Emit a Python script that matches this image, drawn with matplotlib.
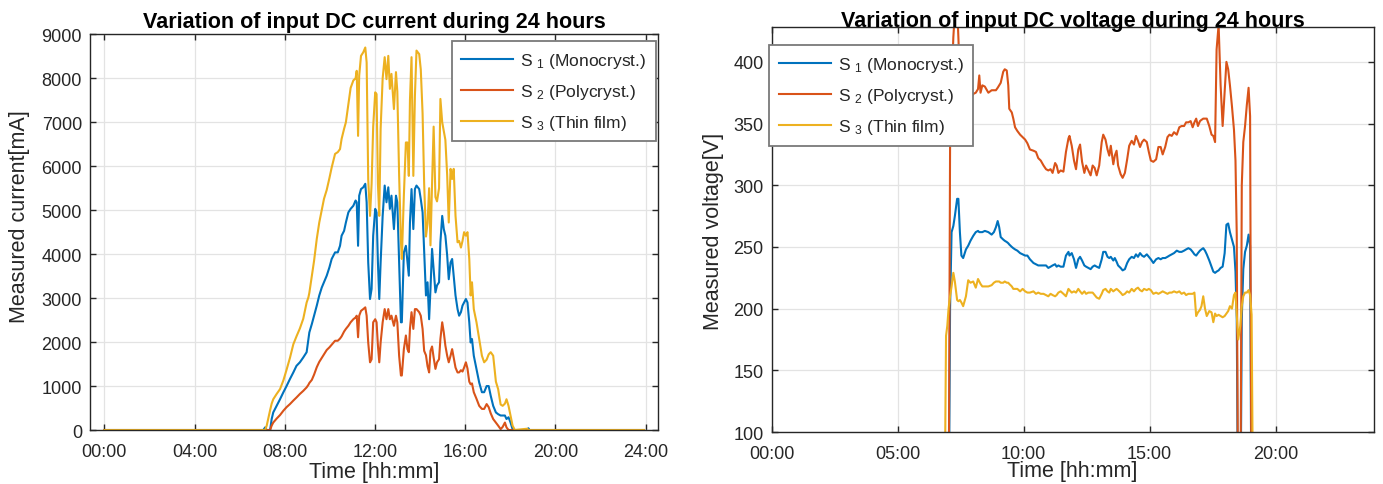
import matplotlib
matplotlib.use("Agg")
import matplotlib.pyplot as plt

# ---- DC current (mA), sampled at the same times for the three strings ----
cur_time = [
    0.0, 7.05, 7.13, 7.2, 7.35, 7.42, 7.49, 7.64, 7.79, 7.94,
    8.08, 8.23, 8.38, 8.52, 8.67, 8.82, 8.97, 9.05, 9.09, 9.2,
    9.3, 9.42, 9.53, 9.64, 9.74, 9.86, 9.98, 10.08, 10.23, 10.35,
    10.45, 10.52, 10.63, 10.71, 10.82, 10.92, 11.04, 11.14, 11.19, 11.25,
    11.3, 11.38, 11.48, 11.57, 11.63, 11.7, 11.78, 11.85, 11.92, 12.01,
    12.07, 12.13, 12.19, 12.25, 12.34, 12.43, 12.51, 12.59, 12.66, 12.73,
    12.84, 12.93, 12.99, 13.07, 13.15, 13.19, 13.28, 13.37, 13.44, 13.5,
    13.55, 13.62, 13.7, 13.77, 13.84, 13.96, 14.03, 14.11, 14.18, 14.26,
    14.33, 14.4, 14.46, 14.53, 14.6, 14.68, 14.75, 14.84, 14.9, 14.98,
    15.05, 15.12, 15.2, 15.27, 15.35, 15.42, 15.49, 15.57, 15.66, 15.73,
    15.81, 15.88, 15.95, 16.03, 16.1, 16.18, 16.24, 16.3, 16.38, 16.5,
    16.62, 16.74, 16.84, 16.95, 17.04, 17.13, 17.24, 17.36, 17.46, 17.57,
    17.66, 17.76, 17.83, 17.92, 18.01, 18.1, 18.2, 18.75, 18.8, 18.85,
    23.92,
]
cur_s1 = [
    0, 0, 60, 0, 0, 250, 400, 550, 700, 860,
    1000, 1160, 1310, 1460, 1540, 1650, 1770, 2070, 2220, 2410,
    2600, 2830, 3060, 3240, 3360, 3510, 3700, 3890, 4040, 4040,
    4190, 4420, 4530, 4720, 4950, 5030, 5100, 5220, 5180, 4190,
    5330, 5480, 5520, 5600, 5180, 3810, 2980, 3210, 4420, 5030,
    4950, 3810, 2980, 3810, 4870, 5560, 5180, 5520, 5030, 5330,
    4570, 5330, 5180, 3810, 2450, 2450, 4040, 4190, 3810, 3510,
    4720, 5480, 4570, 5480, 5560, 5480, 5250, 4950, 4040, 3060,
    3360, 2520, 3210, 4120, 3660, 3130, 3290, 3360, 4270, 4870,
    4570, 4420, 3970, 3430, 3810, 3890, 3510, 3060, 2750, 2600,
    2680, 2830, 2900, 2980, 2900, 2450, 1990, 2070, 1690, 1390,
    1080, 860, 860, 1000, 1000, 780, 550, 400, 360, 330,
    330, 330, 250, 290, 170, 20, 0, 0, 40, 0,
    0,
]
cur_s2 = [
    0, 0, 0, 0, 0, 100, 170, 260, 340, 440,
    520, 590, 670, 740, 820, 890, 970, 1030, 1070, 1140,
    1260, 1430, 1550, 1640, 1720, 1820, 1880, 1940, 2030, 2030,
    2080, 2130, 2240, 2300, 2370, 2450, 2520, 2560, 2600, 2110,
    2600, 2710, 2750, 2790, 2600, 1990, 1540, 1610, 2450, 2520,
    2450, 1920, 1540, 1990, 2450, 2750, 2520, 2750, 2520, 2600,
    2370, 2600, 2450, 1690, 1240, 1240, 1840, 2150, 1840, 1770,
    2300, 2680, 2300, 2750, 2750, 2680, 2600, 2300, 1800, 1700,
    1450, 1310, 1800, 1900, 1650, 1390, 1540, 1610, 2070, 2450,
    2220, 1920, 1690, 1540, 1690, 1840, 1650, 1420, 1310, 1310,
    1360, 1330, 1420, 1540, 1400, 1100, 1040, 1060, 860, 710,
    550, 480, 480, 590, 520, 380, 250, 170, 100, 20,
    70, 170, 60, 0, 0, 0, 0, 0, 0, 0,
    0,
]
cur_s3 = [
    0, 0, 0, 100, 450, 600, 700, 820, 930, 1130,
    1370, 1640, 1950, 2130, 2310, 2530, 2900, 3020, 3120, 3510,
    3850, 4350, 4720, 5000, 5260, 5460, 5730, 5970, 6280, 6320,
    6390, 6620, 6850, 7000, 7400, 7780, 7950, 8000, 8170, 6690,
    8060, 8510, 8590, 8700, 8360, 5700, 4870, 5600, 6900, 7680,
    7640, 5600, 4870, 6850, 8000, 8480, 7980, 8510, 7760, 8100,
    7300, 8140, 7700, 5800, 4300, 3890, 5330, 6540, 6540, 5780,
    7500, 8480, 5780, 7600, 8630, 8550, 8200, 7200, 5600, 4400,
    4700, 5500, 4200, 5600, 6900, 5300, 5200, 5500, 7530, 7000,
    6800, 6600, 5800, 4720, 5940, 5710, 5940, 4870, 4270, 4300,
    4150, 4300, 4500, 4420, 4500, 3890, 3060, 3360, 2750, 2450,
    2070, 1690, 1540, 1600, 1720, 1770, 1690, 1100, 930, 580,
    550, 600, 700, 550, 330, 100, 0, 30, 0, 0,
    0,
]

# ---- DC voltage (V) ----
volt_time = [
    0.0, 6.85, 6.92, 6.97, 7.02, 7.08, 7.14, 7.21, 7.27, 7.36,
    7.41, 7.47, 7.53, 7.6, 7.71, 7.8, 7.89, 8.0, 8.1, 8.19,
    8.24, 8.29, 8.36, 8.46, 8.6, 8.73, 8.82, 8.9, 8.97, 9.03,
    9.09, 9.19, 9.25, 9.33, 9.39, 9.43, 9.53, 9.59, 9.66, 9.75,
    9.86, 9.96, 10.06, 10.15, 10.25, 10.39, 10.49, 10.58, 10.68, 10.79,
    10.89, 10.98, 11.07, 11.15, 11.25, 11.31, 11.38, 11.47, 11.58, 11.68,
    11.78, 11.82, 11.91, 12.0, 12.08, 12.17, 12.24, 12.32, 12.41, 12.48,
    12.57, 12.66, 12.74, 12.82, 12.9, 13.0, 13.1, 13.16, 13.25, 13.33,
    13.4, 13.46, 13.56, 13.62, 13.69, 13.75, 13.85, 13.93, 14.02, 14.11,
    14.19, 14.29, 14.38, 14.46, 14.54, 14.62, 14.7, 14.78, 14.89, 14.97,
    15.05, 15.15, 15.26, 15.35, 15.44, 15.52, 15.62, 15.71, 15.79, 15.88,
    15.97, 16.08, 16.18, 16.27, 16.37, 16.45, 16.54, 16.63, 16.71, 16.78,
    16.85, 16.92, 17.0, 17.06, 17.13, 17.2, 17.27, 17.37, 17.46, 17.53,
    17.6, 17.66, 17.74, 17.82, 17.9, 17.98, 18.05, 18.12, 18.19, 18.27,
    18.35, 18.41, 18.46, 18.52, 18.6, 18.66, 18.72, 18.79, 18.86, 18.93,
    18.99, 19.05, 19.12, 23.92,
]
volt_s1 = [
    0, 0, 0, 0, 0, 200, 262, 267, 275, 289,
    289, 262, 243, 241, 248, 251, 255, 259, 262, 263,
    262, 262, 262, 263, 262, 260, 262, 266, 271, 266,
    258, 256, 255, 254, 253, 252, 250, 249, 248, 247,
    245, 244, 243, 243, 240, 237, 236, 235, 235, 235,
    235, 233, 234, 235, 236, 234, 235, 234, 234, 243,
    246, 243, 245, 240, 233, 240, 242, 239, 235, 234,
    233, 232, 234, 235, 234, 233, 240, 246, 246, 242,
    241, 242, 239, 241, 238, 235, 233, 231, 232, 237,
    240, 242, 241, 244, 242, 245, 243, 242, 244, 242,
    240, 237, 240, 241, 240, 241, 241, 242, 243, 244,
    245, 247, 246, 246, 247, 248, 249, 248, 246, 244,
    243, 245, 247, 248, 249, 247, 244, 239, 234, 230,
    229, 230, 231, 233, 234, 245, 268, 269, 262, 256,
    250, 230, 192, 0, 0, 192, 232, 246, 251, 260,
    251, 0, 0, 0,
]
volt_s2 = [
    0, 0, 0, 0, 0, 330, 380, 420, 440, 445,
    420, 385, 370, 365, 362, 362, 370, 374, 375, 378,
    389, 375, 381, 380, 375, 377, 377, 377, 379, 381,
    383, 392, 394, 393, 381, 362, 359, 354, 347, 344,
    341, 339, 337, 334, 329, 328, 327, 322, 320, 316,
    313, 312, 313, 310, 318, 316, 310, 312, 311, 327,
    338, 340, 332, 320, 313, 329, 333, 319, 310, 316,
    312, 308, 316, 314, 308, 316, 335, 341, 337, 329,
    324, 332, 317, 324, 328, 316, 309, 306, 310, 321,
    332, 336, 333, 340, 336, 331, 335, 337, 335, 327,
    320, 319, 321, 331, 331, 325, 331, 339, 341, 340,
    343, 341, 347, 348, 348, 351, 351, 352, 347, 351,
    354, 348, 352, 353, 354, 354, 354, 348, 341, 340,
    335, 410, 430, 381, 348, 375, 400, 394, 381, 364,
    345, 320, 260, 0, 0, 300, 335, 348, 365, 379,
    356, 0, 0, 0,
]
volt_s3 = [
    0, 0, 178, 186, 200, 210, 218, 229, 222, 207,
    206, 207, 205, 202, 210, 223, 221, 222, 217, 224,
    222, 220, 218, 218, 218, 219, 221, 222, 222, 222,
    221, 221, 222, 221, 221, 220, 218, 216, 216, 216,
    214, 216, 214, 213, 213, 214, 212, 213, 212, 212,
    211, 210, 212, 211, 210, 211, 213, 214, 212, 210,
    216, 215, 213, 214, 213, 216, 214, 212, 214, 212,
    213, 213, 213, 211, 209, 208, 212, 215, 216, 214,
    213, 216, 214, 215, 216, 215, 213, 211, 212, 214,
    213, 216, 214, 216, 217, 215, 214, 216, 215, 216,
    215, 212, 213, 212, 213, 214, 213, 212, 213, 213,
    214, 213, 214, 212, 213, 211, 212, 212, 212, 213,
    194, 197, 199, 202, 210, 200, 194, 198, 197, 189,
    196, 194, 195, 194, 193, 194, 196, 198, 202, 200,
    211, 213, 195, 175, 186, 202, 210, 213, 213, 215,
    211, 195, 0, 0,
]

labels = ["S $_1$ (Monocryst.)", "S $_2$ (Polycryst.)", "S $_3$ (Thin film)"]
colors = ["#0072BD", "#D95319", "#EDB120"]

cur_ticks = [0, 4, 8, 12, 16, 20, 24]
cur_ticklabels = ["00:00", "04:00", "08:00", "12:00", "16:00", "20:00", "24:00"]
volt_ticks = [0, 5, 10, 15, 20]
volt_ticklabels = ["00:00", "05:00", "10:00", "15:00", "20:00"]

DARK = "#262626"

plt.rcParams["font.family"] = ["Liberation Sans", "DejaVu Sans"]
plt.rcParams["mathtext.fontset"] = "custom"
plt.rcParams["mathtext.rm"] = "Liberation Sans"
plt.rcParams["mathtext.default"] = "regular"


def style_axes(ax):
    for sp in ax.spines.values():
        sp.set_color(DARK)
        sp.set_linewidth(1.0)
    ax.tick_params(direction="in", top=True, right=True, length=4, width=1,
                   color=DARK, labelcolor=DARK, labelsize=13)
    ax.tick_params(axis="x", pad=9)
    ax.tick_params(axis="y", pad=6)
    ax.grid(True, color="#e3e3e3", linewidth=0.9)
    ax.set_axisbelow(True)


def make_legend(ax, **kw):
    leg = ax.legend(fontsize=12.5, handlelength=3.0, handletextpad=0.4,
                    labelspacing=0.7, borderpad=0.55, borderaxespad=0,
                    fancybox=False, framealpha=1, **kw)
    leg.get_frame().set_edgecolor("#7a7a7a")
    leg.get_frame().set_linewidth(1.3)
    for t in leg.get_texts():
        t.set_color(DARK)


fig = plt.figure(figsize=(13.83, 4.85), dpi=100)

# current
ax1 = fig.add_axes([0.0653, 0.1113, 0.4107, 0.8159])
for vals, lab, c in zip([cur_s1, cur_s2, cur_s3], labels, colors):
    ax1.plot(cur_time, vals, color=c, lw=1.5, label=lab)
ax1.set_xlim(-0.62, 24.56)
ax1.set_ylim(0, 9000)
ax1.set_yticks(range(0, 9001, 1000))
ax1.set_xticks(cur_ticks)
ax1.set_xticklabels(cur_ticklabels)
style_axes(ax1)
ax1.set_title("Variation of input DC current during 24 hours", fontsize=15.5,
              fontweight="bold", pad=5)
ax1.set_xlabel("Time [hh:mm]", fontsize=15.5, color=DARK, va="center")
ax1.xaxis.set_label_coords(0.5, -0.104)
ax1.set_ylabel("Measured current[mA]", fontsize=15.5, color=DARK, va="center")
ax1.yaxis.set_label_coords(-0.1255, 0.543)
make_legend(ax1, loc="upper right", bbox_to_anchor=(0.996, 0.983))

# voltage
ax2 = fig.add_axes([0.558, 0.1072, 0.4357, 0.8344])
for vals, lab, c in zip([volt_s1, volt_s2, volt_s3], labels, colors):
    ax2.plot(volt_time, vals, color=c, lw=1.5, label=lab)
ax2.set_xlim(0, 23.92)
ax2.set_ylim(100, 428)
ax2.set_yticks(range(100, 401, 50))
ax2.set_xticks(volt_ticks)
ax2.set_xticklabels(volt_ticklabels)
style_axes(ax2)
ax2.set_title("Variation of input DC voltage during 24 hours", fontsize=15.5,
              fontweight="bold", pad=1)
ax2.set_xlabel("Time [hh:mm]", fontsize=15.5, color=DARK, va="center")
ax2.xaxis.set_label_coords(0.498, -0.094)
ax2.set_ylabel("Measured voltage[V]", fontsize=15.5, color=DARK, va="center")
ax2.yaxis.set_label_coords(-0.097, 0.497)
make_legend(ax2, loc="upper left", bbox_to_anchor=(-0.0045, 0.956))

fig.savefig("out.png", dpi=100)
